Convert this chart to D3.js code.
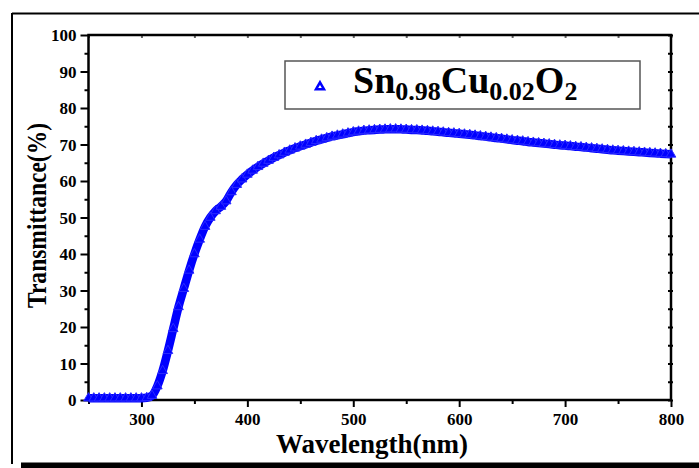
<!DOCTYPE html>
<html>
<head>
<meta charset="utf-8">
<script src="https://cdn.jsdelivr.net/npm/d3@7"></script>
<style>
  body { margin: 0; background: #fff; }
  text { font-family: "Liberation Serif", "Times New Roman", serif; font-weight: bold; }
</style>
</head>
<body>
<div id="chart"></div>
<script>
//data
const wavelengths = [
  250, 255, 260, 265, 270, 275, 280, 285, 290, 295,
  300, 305, 310, 315, 320, 325, 330, 335, 340, 345,
  350, 355, 360, 365, 370, 375, 380, 385, 390, 395,
  400, 405, 410, 415, 420, 425, 430, 435, 440, 445,
  450, 455, 460, 465, 470, 475, 480, 485, 490, 495,
  500, 505, 510, 515, 520, 525, 530, 535, 540, 545,
  550, 555, 560, 565, 570, 575, 580, 585, 590, 595,
  600, 605, 610, 615, 620, 625, 630, 635, 640, 645,
  650, 655, 660, 665, 670, 675, 680, 685, 690, 695,
  700, 705, 710, 715, 720, 725, 730, 735, 740, 745,
  750, 755, 760, 765, 770, 775, 780, 785, 790, 795,
  800
];
const transmittance = [
  0.5, 0.5, 0.5, 0.5, 0.5, 0.5, 0.5, 0.5, 0.5, 0.5,
  0.5, 0.6, 1.2, 3.8, 8.0, 13.5, 19.5, 25.5, 30.5, 35.5,
  40.0, 44.0, 47.5, 50.0, 51.8, 53.0, 54.5, 57.0, 59.0, 60.5,
  61.8, 62.9, 63.9, 64.8, 65.6, 66.4, 67.1, 67.8, 68.4, 69.0,
  69.5, 70.0, 70.5, 71.0, 71.4, 71.8, 72.2, 72.5, 72.8, 73.1,
  73.4, 73.6, 73.8, 73.9, 74.0, 74.1, 74.15, 74.2, 74.2, 74.15,
  74.1, 74.0, 73.95, 73.85, 73.75, 73.6, 73.5, 73.35, 73.2, 73.1,
  72.95, 72.8, 72.65, 72.5, 72.3, 72.15, 71.95, 71.8, 71.6, 71.4,
  71.2, 71.05, 70.9, 70.7, 70.55, 70.4, 70.25, 70.1, 69.95, 69.8,
  69.7, 69.55, 69.4, 69.3, 69.15, 69.0, 68.85, 68.7, 68.55, 68.4,
  68.3, 68.2, 68.1, 68.0, 67.9, 67.8, 67.7, 67.6, 67.5, 67.4,
  67.3
];
const xTicks = [300, 400, 500, 600, 700, 800];
const xMinorTicks = [250, 350, 450, 550, 650, 750];
const yTicks = [0, 10, 20, 30, 40, 50, 60, 70, 80, 90, 100];
const yMinorTicks = [5, 15, 25, 35, 45, 55, 65, 75, 85, 95];

const width = 699, height = 468;
const plotLeft = 88.5, plotRight = 671, plotTop = 35, plotBottom = 400;
const blue = "#0000ff";
const serif = "'Liberation Serif', 'Times New Roman', serif";

const svg = d3.select("#chart").append("svg")
  .attr("width", width).attr("height", height);

//outer frame of the figure
svg.append("line").attr("x1", 12).attr("y1", 13.5).attr("x2", width).attr("y2", 13.5)
  .attr("stroke", "#000").attr("stroke-width", 2);
svg.append("line").attr("x1", 12).attr("y1", 13).attr("x2", 12).attr("y2", 464)
  .attr("stroke", "#000").attr("stroke-width", 2);
svg.append("rect").attr("x", 21).attr("y", 462.5).attr("width", width - 21).attr("height", 6)
  .attr("fill", "#000");

//scales
const x = d3.scaleLinear().domain([250, 800]).range([plotLeft, plotRight]);
const y = d3.scaleLinear().domain([0, 100]).range([plotBottom, plotTop]);

//bottom axis
const xAxis = svg.append("g").attr("transform", `translate(0,${plotBottom})`)
  .call(d3.axisBottom(x).tickValues(xTicks).tickSize(7).tickPadding(6));
svg.append("g").attr("transform", `translate(0,${plotBottom})`)
  .call(d3.axisBottom(x).tickValues(xMinorTicks).tickSize(4).tickFormat(""))
  .call(g => g.select(".domain").remove());
xAxis.attr("font-family", serif);
xAxis.selectAll("text").attr("font-size", 17).attr("fill", "#000")
  .style("font-family", serif).style("font-weight", "bold");

//left axis
const yAxis = svg.append("g").attr("transform", `translate(${plotLeft},0)`)
  .call(d3.axisLeft(y).tickValues(yTicks).tickSize(8).tickPadding(4));
svg.append("g").attr("transform", `translate(${plotLeft},0)`)
  .call(d3.axisLeft(y).tickValues(yMinorTicks).tickSize(4).tickFormat(""))
  .call(g => g.select(".domain").remove());
yAxis.attr("font-family", serif);
yAxis.selectAll("text").attr("font-size", 17).attr("fill", "#000").attr("dy", "0.34em")
  .style("font-family", serif).style("font-weight", "bold");

//top and right axes with small inside ticks
svg.append("g").attr("transform", `translate(0,${plotTop})`)
  .call(d3.axisBottom(x).tickValues(xTicks.concat(xMinorTicks)).tickSize(3).tickFormat(""))
  .call(g => g.select(".domain").remove())
  .selectAll("line").attr("stroke", "#666");
svg.append("g").attr("transform", `translate(${plotRight},0)`)
  .call(d3.axisLeft(y).tickValues(yTicks.concat(yMinorTicks)).tickSize(3).tickFormat(""))
  .call(g => g.select(".domain").remove());
svg.append("g").attr("transform", `translate(${plotRight},0)`)
  .call(d3.axisRight(y).tickValues(yTicks.concat(yMinorTicks)).tickSize(2).tickFormat(""))
  .call(g => g.select(".domain").remove());

svg.selectAll(".tick line").attr("stroke-width", 2);

//plot border
svg.append("rect").attr("x", plotLeft).attr("y", plotTop)
  .attr("width", plotRight - plotLeft).attr("height", plotBottom - plotTop)
  .attr("fill", "none").attr("stroke", "#000").attr("stroke-width", 2.5);
svg.selectAll(".domain").remove();

//data as thick band with triangle markers
const points = wavelengths.map((w, i) => [w, transmittance[i]]);
const line = d3.line().x(d => x(d[0])).y(d => y(d[1])).curve(d3.curveMonotoneX);
svg.append("path").datum(points).attr("d", line)
  .attr("fill", "none").attr("stroke", blue).attr("stroke-width", 8.5)
  .attr("stroke-linejoin", "round");
const tri = d3.symbol().type(d3.symbolTriangle).size(40);
svg.append("g").selectAll("path").data(points).join("path")
  .attr("d", tri)
  .attr("transform", d => `translate(${x(d[0])},${y(d[1])})`)
  .attr("fill", blue).attr("stroke", "#2a2aff").attr("stroke-width", 1);

//axis titles
svg.append("text").attr("x", 372).attr("y", 453).attr("text-anchor", "middle")
  .attr("font-size", 27).attr("fill", "#000").text("Wavelength(nm)");
svg.append("text").attr("transform", "translate(46,215.5) rotate(-90)")
  .attr("text-anchor", "middle").attr("font-size", 28).attr("fill", "#000")
  .attr("textLength", 185).attr("lengthAdjust", "spacingAndGlyphs")
  .text("Transmittance(%)");

//legend
const legend = svg.append("g");
legend.append("rect").attr("x", 285).attr("y", 61).attr("width", 355).attr("height", 48)
  .attr("fill", "#fff").attr("stroke", "#555").attr("stroke-width", 1.5);
legend.append("path").attr("d", d3.symbol().type(d3.symbolTriangle).size(28))
  .attr("transform", "translate(320,87)")
  .attr("fill", "#fff").attr("stroke", blue).attr("stroke-width", 2.5);
const lt = legend.append("text").attr("x", 353).attr("y", 93).attr("fill", "#000").attr("font-size", 38);
lt.append("tspan").text("Sn");
lt.append("tspan").attr("font-size", 26).attr("dy", 7).text("0.98");
lt.append("tspan").attr("dy", -7).text("Cu");
lt.append("tspan").attr("font-size", 26).attr("dy", 7).text("0.02");
lt.append("tspan").attr("dy", -7).text("O");
lt.append("tspan").attr("font-size", 26).attr("dy", 7).text("2");
</script>
</body>
</html>
